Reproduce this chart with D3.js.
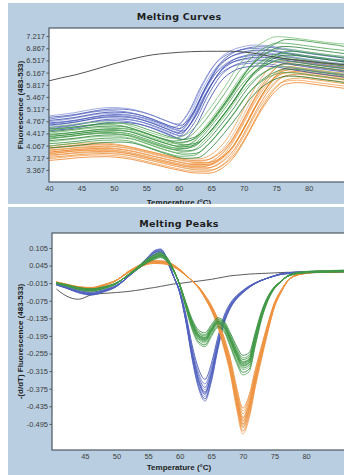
<!DOCTYPE html>
<html>
<head>
<meta charset="utf-8">
<script src="https://cdn.jsdelivr.net/npm/d3@7/dist/d3.min.js"></script>
<style>
  body { margin: 0; background: #fff; }
  text { font-family: "Liberation Sans", Arial, sans-serif; }
</style>
</head>
<body>
<div id="chart"></div>
<script>
// ---- melting curves (top) ----
const curveTemps = [40, 42, 44, 46, 48, 50, 52, 54, 56, 58, 60, 62, 64, 66, 68, 70, 72, 74, 76, 78, 80, 82, 84, 86];
const curveBlue   = [4.70, 4.74, 4.79, 4.86, 4.92, 4.94, 4.92, 4.85, 4.73, 4.58, 4.46, 4.85, 5.60, 6.20, 6.50, 6.62, 6.66, 6.64, 6.58, 6.52, 6.46, 6.41, 6.36, 6.32];
const curveGreen  = [4.30, 4.34, 4.38, 4.43, 4.46, 4.47, 4.44, 4.33, 4.20, 4.08, 4.00, 4.05, 4.35, 4.80, 5.30, 5.85, 6.25, 6.50, 6.62, 6.60, 6.55, 6.50, 6.45, 6.40];
const curveOrange = [3.84, 3.88, 3.92, 3.94, 3.95, 3.93, 3.88, 3.80, 3.71, 3.62, 3.54, 3.48, 3.48, 3.62, 3.98, 4.60, 5.30, 5.85, 6.15, 6.20, 6.16, 6.11, 6.06, 6.02];
const curveBlack  = [5.93, 6.02, 6.10, 6.20, 6.31, 6.42, 6.52, 6.61, 6.68, 6.72, 6.75, 6.77, 6.78, 6.78, 6.78, 6.76, 6.71, 6.64, 6.58, 6.53, 6.49, 6.45, 6.42, 6.39];

// replicate spread: offset before melting / after melting, and melt shift (°C)
const blueLow     = [-0.20, -0.15, -0.11, -0.07, -0.04, -0.01, 0.02, 0.05, 0.09, 0.13, 0.18, 0.22];
const blueHigh    = [-0.30, -0.22, -0.15, -0.10, -0.05, 0.00, 0.05, 0.10, 0.15, 0.20, 0.25, 0.30];
const blueShift   = [0.6, -0.3, 0.4, -0.5, 0.2, -0.1, 0.5, -0.4, 0.1, -0.6, 0.3, -0.2];
const greenLow    = [-0.30, -0.24, -0.18, -0.13, -0.09, -0.05, -0.02, 0.00, 0.03, 0.06, 0.09, 0.12, 0.16, 0.20, 0.24, 0.28];
const greenHigh   = [-0.55, -0.45, -0.35, -0.28, -0.20, -0.12, -0.06, 0.00, 0.05, 0.10, 0.16, 0.22, 0.30, 0.40, 0.50, 0.58];
const greenShift  = [0.9, 0.3, 0.7, -0.2, 0.5, -0.6, 0.1, -0.9, 0.4, -0.3, 0.8, -0.5, 0.0, -0.8, 0.6, -1.0];
const orangeLow   = [-0.20, -0.15, -0.11, -0.08, -0.05, -0.02, 0.00, 0.02, 0.04, 0.07, 0.10, 0.13, 0.16, 0.20];
const orangeHigh  = [-0.32, -0.25, -0.19, -0.13, -0.08, -0.03, 0.00, 0.04, 0.08, 0.12, 0.17, 0.22, 0.28, 0.34];
const orangeShift = [0.5, 0.2, 0.7, -0.1, 0.4, -0.4, 0.1, -0.6, 0.3, -0.2, 0.6, -0.5, 0.0, -0.7];
const blendBlue = [58, 72], blendGreen = [60, 76], blendOrange = [63, 77];

const curveTicks = [3.367, 3.717, 4.067, 4.417, 4.767, 5.117, 5.467, 5.817, 6.167, 6.517, 6.867, 7.217];

// ---- melting peaks (bottom) ----
const peakTemps = [40.5, 42, 44, 46, 48, 50, 52, 53, 54, 55, 56, 57, 58, 59, 60, 61, 62, 63, 64, 65, 66, 67, 68, 69, 70, 71, 72, 73, 74, 75, 76, 77, 78, 80, 82, 84, 86];
const peakBlue   = [-0.020, -0.030, -0.045, -0.052, -0.042, -0.025, 0.010, 0.030, 0.050, 0.070, 0.090, 0.095, 0.065, 0.010, -0.045, -0.140, -0.260, -0.350, -0.390, -0.330, -0.230, -0.145, -0.095, -0.065, -0.045, -0.028, -0.015, -0.005, 0.003, 0.010, 0.016, 0.019, 0.021, 0.023, 0.024, 0.025, 0.026];
const peakGreen  = [-0.015, -0.022, -0.033, -0.038, -0.030, -0.015, 0.015, 0.030, 0.047, 0.062, 0.073, 0.080, 0.065, 0.030, -0.020, -0.090, -0.155, -0.195, -0.205, -0.175, -0.148, -0.160, -0.205, -0.255, -0.290, -0.280, -0.200, -0.120, -0.065, -0.030, -0.010, 0.008, 0.016, 0.022, 0.024, 0.025, 0.026];
const peakOrange = [-0.012, -0.020, -0.030, -0.033, -0.022, -0.005, 0.025, 0.037, 0.047, 0.055, 0.058, 0.057, 0.054, 0.045, 0.030, 0.012, -0.008, -0.030, -0.062, -0.100, -0.150, -0.220, -0.300, -0.410, -0.490, -0.440, -0.340, -0.250, -0.165, -0.090, -0.045, -0.010, 0.008, 0.020, 0.024, 0.025, 0.026];
const peakBlack  = [-0.035, -0.058, -0.070, -0.055, -0.050, -0.047, -0.043, -0.040, -0.037, -0.033, -0.030, -0.026, -0.022, -0.018, -0.016, -0.013, -0.010, -0.008, -0.005, -0.002, 0.002, 0.006, 0.010, 0.012, 0.014, 0.016, 0.017, 0.018, 0.019, 0.020, 0.021, 0.022, 0.022, 0.023, 0.024, 0.025, 0.026];

const blueScale   = [0.88, 0.92, 0.95, 0.97, 0.99, 1.00, 1.01, 1.03, 1.05, 1.07];
const greenScale  = [0.90, 0.93, 0.95, 0.97, 0.98, 0.99, 1.00, 1.01, 1.02, 1.03, 1.05, 1.07, 1.10, 1.13];
const orangeScale = [0.90, 0.92, 0.94, 0.96, 0.97, 0.98, 0.99, 1.00, 1.01, 1.02, 1.03, 1.04, 1.06, 1.08];

const peakTicks = [0.105, 0.045, -0.015, -0.075, -0.135, -0.195, -0.255, -0.315, -0.375, -0.435, -0.495];
const xTicks = [40, 45, 50, 55, 60, 65, 70, 75, 80];

const shades = {
  blue:   ["#2a3da6", "#5868c6", "#3b4db4", "#8592d8"],
  green:  ["#1e7a2c", "#46a04a", "#2c8c37", "#78bd72"],
  orange: ["#ec7a1e", "#f59c4c", "#e9871f", "#eab07a"],
  black:  ["#4a4a4a"]
};

const W = 344, H = 475;
const svg = d3.select("#chart").append("svg").attr("width", W).attr("height", H);

function panel(cfg) {
  const { top, bottom, plot, title, ylabel, xDomain, yDomain, ticks, fmt, xt } = cfg;

  // blue frame
  svg.append("rect")
    .attr("x", 8).attr("y", top)
    .attr("width", W - 8).attr("height", bottom - top)
    .attr("fill", "#b9cfe1");

  const x = d3.scaleLinear().domain(xDomain).range([plot.left, plot.right]);
  const y = d3.scaleLinear().domain(yDomain).range([plot.bottom, plot.top]);

  const clipId = "clip" + top;
  svg.append("clipPath").attr("id", clipId)
    .append("rect")
      .attr("x", plot.left).attr("y", plot.top)
      .attr("width", plot.right - plot.left).attr("height", plot.bottom - plot.top);

  svg.append("rect")
    .attr("x", plot.left).attr("y", plot.top)
    .attr("width", plot.right - plot.left).attr("height", plot.bottom - plot.top)
    .attr("fill", "#fff");

  const g = svg.append("g").attr("clip-path", `url(#${clipId})`);
  const line = d3.line()
    .x(d => x(d[0]))
    .y(d => y(d[1]))
    .curve(d3.curveMonotoneX);

  cfg.series.forEach(s => {
    g.append("path")
      .datum(s.points)
      .attr("d", line)
      .attr("fill", "none")
      .attr("stroke", s.color)
      .attr("stroke-width", s.width || 0.9)
      .attr("stroke-opacity", s.opacity || 0.85);
  });

  // border
  svg.append("rect")
    .attr("x", plot.left).attr("y", plot.top)
    .attr("width", plot.right - plot.left + 2).attr("height", plot.bottom - plot.top)
    .attr("fill", "none")
    .attr("stroke", "#4d5966")
    .attr("stroke-width", 1.2);

  // axes
  const ya = svg.append("g")
    .attr("transform", `translate(${plot.left},0)`)
    .call(d3.axisLeft(y).tickValues(ticks).tickSize(2.5).tickPadding(1.5).tickFormat(fmt));
  const xa = svg.append("g")
    .attr("transform", `translate(0,${plot.bottom})`)
    .call(d3.axisBottom(x).tickValues(xt).tickSize(0).tickPadding(4).tickFormat(d3.format("d")));
  [ya, xa].forEach(a => {
    a.select(".domain").remove();
    a.selectAll("line").attr("stroke", "#555");
    a.selectAll("text")
      .attr("fill", "#3d3d3d")
      .style("font-size", "7.5px");
  });

  svg.append("text")
    .attr("x", 179).attr("y", cfg.titleY)
    .attr("text-anchor", "middle")
    .style("font-family", "'DejaVu Sans', Verdana, sans-serif")
    .style("font-weight", "bold")
    .style("font-size", "9.5px")
    .style("letter-spacing", "0.3px")
    .attr("fill", "#1d1d1d")
    .text(title);

  svg.append("text")
    .attr("x", 179).attr("y", cfg.xlabelY)
    .attr("text-anchor", "middle")
    .style("font-weight", "bold")
    .style("font-size", "8px")
    .attr("fill", "#1d1d1d")
    .text("Temperature (\u00B0C)");

  const cy = (plot.top + plot.bottom) / 2;
  svg.append("text")
    .attr("transform", `translate(${cfg.ylabelX},${cy}) rotate(-90)`)
    .attr("text-anchor", "middle")
    .style("font-weight", "bold")
    .style("font-size", "8px")
    .attr("fill", "#1d1d1d")
    .text(ylabel);
}

// build replicate series for the top panel (ends stay pinned to the axis range)
function curveSeries(base, low, high, shift, blend, palette) {
  const w = d3.scaleLinear().domain(blend).range([0, 1]).clamp(true);
  const last = curveTemps.length - 1;
  return low.map((lo, i) => ({
    color: palette[i % palette.length],
    points: curveTemps.map((t, k) => [
      k === 0 || k === last ? t : t + shift[i],
      base[k] + lo + (high[i] - lo) * w(t)
    ])
  }));
}

function peakSeries(base, factors, palette) {
  return factors.map((f, i) => ({
    color: palette[i % palette.length],
    points: peakTemps.map((t, k) => [t, base[k] * f])
  }));
}

const topSeries = [
  ...curveSeries(curveOrange, orangeLow, orangeHigh, orangeShift, blendOrange, shades.orange),
  ...curveSeries(curveBlue, blueLow, blueHigh, blueShift, blendBlue, shades.blue),
  ...curveSeries(curveGreen, greenLow, greenHigh, greenShift, blendGreen, shades.green),
  { color: shades.black[0], width: 1, opacity: 0.95, points: curveTemps.map((t, k) => [t, curveBlack[k]]) }
];

const bottomSeries = [
  { color: shades.black[0], width: 1, opacity: 0.9, points: peakTemps.map((t, k) => [t, peakBlack[k]]) },
  ...peakSeries(peakBlue, blueScale, shades.blue),
  ...peakSeries(peakOrange, orangeScale, shades.orange),
  ...peakSeries(peakGreen, greenScale, shades.green)
];

panel({
  top: 3, bottom: 204,
  plot: { left: 49, right: 344, top: 28, bottom: 182 },
  title: "Melting Curves", titleY: 20, xlabelY: 205,
  ylabel: "Fluorescence (483-533)", ylabelX: 23,
  xDomain: [40, 85.45], yDomain: [3.02, 7.45],
  ticks: curveTicks, fmt: d => d.toFixed(3), xt: xTicks,
  series: topSeries
});

// white gap between the two frames (also trims the clipped axis title)
svg.append("rect").attr("x", 0).attr("y", 204).attr("width", W).attr("height", 3).attr("fill", "#fff");

panel({
  top: 207, bottom: 475,
  plot: { left: 52, right: 344, top: 233, bottom: 450 },
  title: "Melting Peaks", titleY: 227, xlabelY: 470,
  ylabel: "-(d/dT) Fluorescence (483-533)", ylabelX: 23,
  xDomain: [39.8, 86], yDomain: [-0.584, 0.156],
  ticks: peakTicks, fmt: d => d.toFixed(3), xt: xTicks.slice(1),
  series: bottomSeries
});
</script>
</body>
</html>
